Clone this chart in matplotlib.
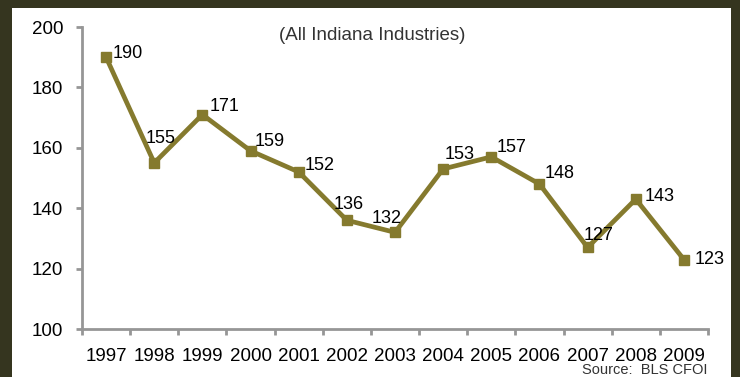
import matplotlib
matplotlib.use('Agg')
import matplotlib.pyplot as plt
from matplotlib.patches import Rectangle
import numpy as np

years = ['1997', '1998', '1999', '2000', '2001', '2002', '2003',
         '2004', '2005', '2006', '2007', '2008', '2009']
fatalities = [190, 155, 171, 159, 152, 136, 132, 153, 157, 148, 127, 143, 123]
y_ticks = [100, 120, 140, 160, 180, 200]

# label offsets in pixels (dx from point to label left edge, dy up)
label_offsets = [(7, 4), (-9, 24), (7, 8), (4, 9), (6, 6), (-13, 16), (-23, 14),
                 (1, 14), (5, 9), (5, 11), (-4, 12), (9, 3), (11, 0)]

line_color = '#857a2e'
border_color = '#35351f'
axis_color = '#969696'
font = ['Liberation Sans', 'DejaVu Sans']

W, H = 740, 377
fig = plt.figure(figsize=(W / 100, H / 100), dpi=100)
fig.patch.set_facecolor(border_color)
fig.patches.append(Rectangle((12 / W, 0), (731 - 12) / W, (H - 8) / H,
                             transform=fig.transFigure, facecolor='white',
                             edgecolor='none', zorder=-5))

ax = fig.add_axes([82 / W, (H - 329) / H, (708 - 82) / W, (329 - 27) / H])
ax.set_facecolor('none')
ax.set_zorder(2)

x = np.arange(len(years))
ax.plot(x, fatalities, color=line_color, linewidth=3.4, marker='s',
        markersize=6.5, clip_on=False)

for xi, v, (dx, dy) in zip(x, fatalities, label_offsets):
    ax.annotate(str(v), (xi, v), xytext=(dx * 0.72, dy * 0.72),
                textcoords='offset points', ha='left', va='center',
                fontsize=13, family=font, color='black')

ax.set_xlim(-0.5, len(years) - 0.5)
ax.set_ylim(100, 200)
ax.set_yticks(y_ticks)
ax.set_yticklabels([str(t) for t in y_ticks], family=font, fontsize=13.5)

ax.set_xticks(np.arange(len(years) + 1) - 0.5)
ax.set_xticklabels([])
ax.set_xticks(x, minor=True)
ax.set_xticklabels(years, minor=True, family=font, fontsize=13.5)
ax.tick_params(axis='x', which='major', length=4, width=2, color=axis_color,
               direction='out')
ax.tick_params(axis='x', which='minor', length=0, pad=14)
ax.tick_params(axis='y', length=4.5, width=2, color=axis_color, pad=9)

for side in ['top', 'right']:
    ax.spines[side].set_visible(False)
for side in ['left', 'bottom']:
    ax.spines[side].set_color(axis_color)
    ax.spines[side].set_linewidth(2)

fig.text(372 / W, (H - 35) / H, '(All Indiana Industries)', ha='center',
         va='center', fontsize=13.5, family=font, color='#333333')
fig.text(708 / W, (H - 370) / H, 'Source:  BLS CFOI', ha='right',
         va='center', fontsize=10.5, family=font, color='#333333')

fig.savefig('out.png', dpi=100, facecolor=fig.get_facecolor())
